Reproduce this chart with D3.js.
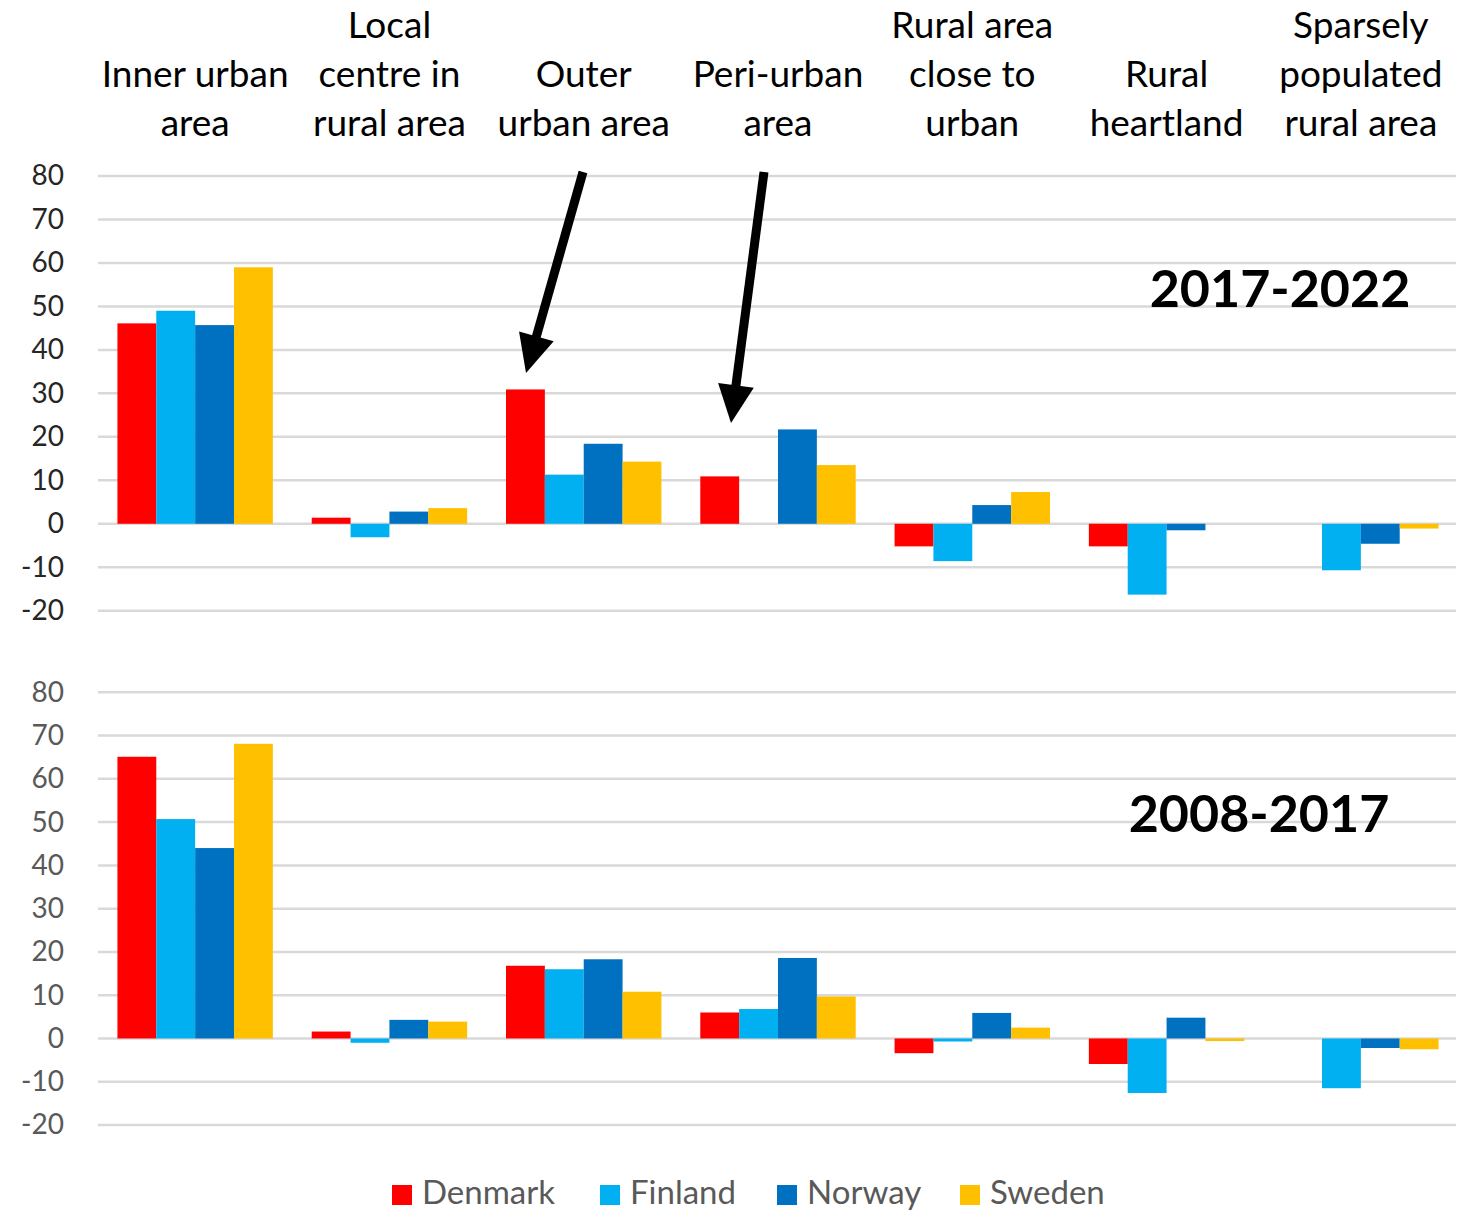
<!DOCTYPE html>
<html>
<head>
<meta charset="utf-8">
<script src="https://cdn.jsdelivr.net/npm/d3@7"></script>
<style>
  body { margin: 0; background: #fff; }
  svg { display: block; font-family: Lato, "Open Sans", sans-serif; }
</style>
</head>
<body>
<div id="chart"></div>
<script>
// categories (header text is split into lines like the original)
const categories = ["Inner urban area", "Local centre in rural area", "Outer urban area",
  "Peri-urban area", "Rural area close to urban", "Rural heartland", "Sparsely populated rural area"];
const headerLines = [["Inner urban", "area"], ["Local", "centre in", "rural area"], ["Outer", "urban area"],
  ["Peri-urban", "area"], ["Rural area", "close to", "urban"], ["Rural", "heartland"],
  ["Sparsely", "populated", "rural area"]];

const countries = ["Denmark", "Finland", "Norway", "Sweden"];
const colors = ["#ff0000", "#00b0f0", "#0070c0", "#ffc000"];

// 2017-2022 (top panel)
const denmark1722 = [46.1, 1.4, 30.9, 10.9, -5.2, -5.2, null];
const finland1722 = [49.0, -3.1, 11.3, null, -8.6, -16.3, -10.7];
const norway1722 = [45.7, 2.8, 18.4, 21.7, 4.3, -1.5, -4.6];
const sweden1722 = [59.0, 3.6, 14.3, 13.5, 7.3, null, -1.1];

// 2008-2017 (bottom panel)
const denmark0817 = [65.1, 1.6, 16.8, 6.0, -3.4, -5.9, null];
const finland0817 = [50.7, -1.0, 16.0, 6.8, -0.7, -12.6, -11.5];
const norway0817 = [44.0, 4.3, 18.3, 18.6, 5.9, 4.8, -2.2];
const sweden0817 = [68.1, 3.9, 10.8, 9.7, 2.5, -0.6, -2.5];

const yTicks = [-20, -10, 0, 10, 20, 30, 40, 50, 60, 70, 80];

const panels = [
  { label: "2017-2022", series: [denmark1722, finland1722, norway1722, sweden1722],
    top: 176, bottom: 610.7, tickColor: "#262626", labelX: 1280, labelY: 307 },
  { label: "2008-2017", series: [denmark0817, finland0817, norway0817, sweden0817],
    top: 692.3, bottom: 1125, tickColor: "#595959", labelX: 1259, labelY: 832 }
];

const width = 1471, height = 1212;
const svg = d3.select("#chart").append("svg")
  .attr("width", width)
  .attr("height", height);

const x0 = d3.scaleBand().domain(categories).range([98, 1458]).padding(0);
const x1 = d3.scaleBand().domain(countries).range([0, x0.bandwidth()])
  .paddingInner(0).paddingOuter(0.5);

// category headers along the top
const header = svg.append("g");
categories.forEach((c, i) => {
  const lines = headerLines[i];
  const cx = x0(c) + x0.bandwidth() / 2;
  lines.forEach((ln, j) => {
    header.append("text")
      .attr("x", cx)
      .attr("y", 136 - (lines.length - 1 - j) * 49)
      .attr("text-anchor", "middle")
      .attr("font-size", 37)
      .attr("fill", "#000")
      .text(ln);
  });
});

panels.forEach(p => {
  const y = d3.scaleLinear().domain([-20, 80]).range([p.bottom, p.top]);
  const g = svg.append("g");

  // gridlines
  g.selectAll(".grid").data(yTicks).enter().append("line")
    .attr("x1", 98).attr("x2", 1456)
    .attr("y1", d => y(d)).attr("y2", d => y(d))
    .attr("stroke", "#d9d9d9")
    .attr("stroke-width", 2.5);

  // y axis labels (plain hyphen for negatives, as in the original)
  const axis = g.append("g")
    .attr("transform", "translate(64,0)")
    .call(d3.axisLeft(y).tickValues(yTicks).tickSize(0).tickPadding(0)
      .tickFormat(d => String(d)));
  axis.select(".domain").remove();
  axis.selectAll("text")
    .attr("font-family", "Lato, sans-serif")
    .attr("font-size", 28)
    .attr("fill", p.tickColor);

  // bars
  p.series.forEach((vals, si) => {
    g.selectAll(null)
      .data(vals.map((v, i) => ({ cat: categories[i], v })).filter(d => d.v !== null))
      .enter().append("rect")
      .attr("x", d => x0(d.cat) + x1(countries[si]))
      .attr("width", x1.bandwidth())
      .attr("y", d => y(Math.max(0, d.v)))
      .attr("height", d => Math.abs(y(d.v) - y(0)))
      .attr("fill", colors[si]);
  });

  // period label
  g.append("text")
    .attr("x", p.labelX)
    .attr("y", p.labelY)
    .attr("text-anchor", "middle")
    .attr("font-size", 52)
    .attr("font-weight", "bold")
    .attr("fill", "#000")
    .text(p.label);
});

// arrows pointing at the outer and peri-urban groups
const arrows = [
  { from: [583, 172], to: [526, 373] },
  { from: [764, 172], to: [731, 423] }
];
arrows.forEach(a => {
  const dx = a.to[0] - a.from[0], dy = a.to[1] - a.from[1];
  const len = Math.hypot(dx, dy), ux = dx / len, uy = dy / len;
  const headLen = 38, headW = 18;
  const bx = a.to[0] - ux * headLen, by = a.to[1] - uy * headLen;
  svg.append("line")
    .attr("x1", a.from[0]).attr("y1", a.from[1])
    .attr("x2", bx + ux * 2).attr("y2", by + uy * 2)
    .attr("stroke", "#000").attr("stroke-width", 9);
  svg.append("polygon")
    .attr("points", [
      [a.to[0], a.to[1]],
      [bx - uy * headW, by + ux * headW],
      [bx + uy * headW, by - ux * headW]
    ].map(pt => pt.join(",")).join(" "))
    .attr("fill", "#000");
});

// legend
const legendX = [392, 600, 777, 960];
const legend = svg.append("g");
countries.forEach((c, i) => {
  legend.append("rect")
    .attr("x", legendX[i]).attr("y", 1185)
    .attr("width", 20).attr("height", 20)
    .attr("fill", colors[i]);
  legend.append("text")
    .attr("x", legendX[i] + 30).attr("y", 1204)
    .attr("font-size", 33)
    .attr("fill", "#595959")
    .text(c);
});
</script>
</body>
</html>
